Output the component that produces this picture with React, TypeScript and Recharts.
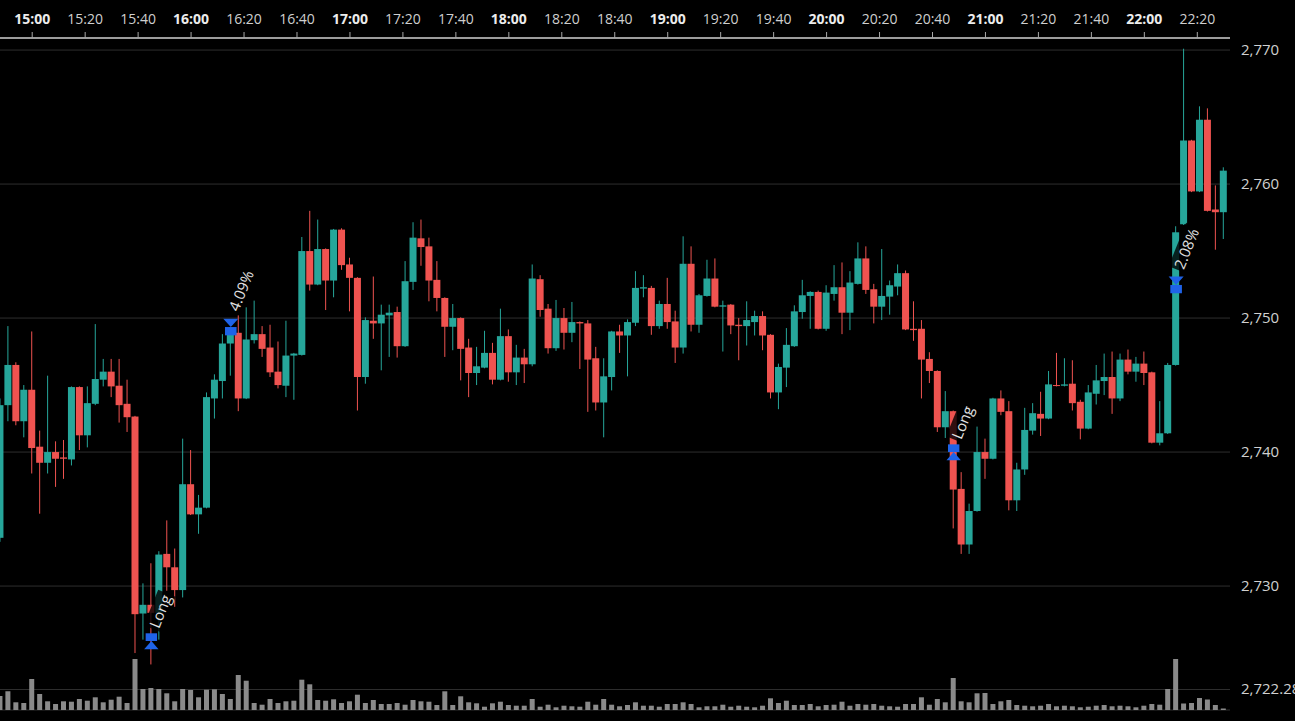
import React from 'react';
import { ComposedChart, Bar, XAxis, YAxis, CartesianGrid, Scatter } from 'recharts';

const TIMES = [
  '14:48','14:51','14:54','14:57',
  '15:00','15:03','15:06','15:09','15:12','15:15','15:18','15:21','15:24','15:27','15:30','15:33','15:36','15:39','15:42','15:45','15:48','15:51','15:54','15:57',
  '16:00','16:03','16:06','16:09','16:12','16:15','16:18','16:21','16:24','16:27','16:30','16:33','16:36','16:39','16:42','16:45','16:48','16:51','16:54','16:57',
  '17:00','17:03','17:06','17:09','17:12','17:15','17:18','17:21','17:24','17:27','17:30','17:33','17:36','17:39','17:42','17:45','17:48','17:51','17:54','17:57',
  '18:00','18:03','18:06','18:09','18:12','18:15','18:18','18:21','18:24','18:27','18:30','18:33','18:36','18:39','18:42','18:45','18:48','18:51','18:54','18:57',
  '19:00','19:03','19:06','19:09','19:12','19:15','19:18','19:21','19:24','19:27','19:30','19:33','19:36','19:39','19:42','19:45','19:48','19:51','19:54','19:57',
  '20:00','20:03','20:06','20:09','20:12','20:15','20:18','20:21','20:24','20:27','20:30','20:33','20:36','20:39','20:42','20:45','20:48','20:51','20:54','20:57',
  '21:00','21:03','21:06','21:09','21:12','21:15','21:18','21:21','21:24','21:27','21:30','21:33','21:36','21:39','21:42','21:45','21:48','21:51','21:54','21:57',
  '22:00','22:03','22:06','22:09','22:12','22:15','22:18','22:21','22:24','22:27','22:30',
];

const OPEN = [
  2733.6, 2743.5, 2746.5, 2742.3, 2744.65, 2740.4, 2739.2, 2740.0, 2739.6, 2739.45,
  2744.85, 2741.25, 2743.6, 2745.4, 2746.0, 2744.95, 2743.6, 2742.65, 2727.95, 2728.6,
  2728.0, 2732.4, 2731.4, 2729.7, 2737.6, 2735.35, 2735.85, 2744.0, 2745.3, 2748.1,
  2748.9, 2744.0, 2748.35, 2748.8, 2747.8, 2746.0, 2744.95, 2747.2, 2747.25, 2755.0,
  2752.5, 2755.15, 2752.8, 2756.6, 2754.0, 2753.0, 2745.6, 2749.8, 2749.6, 2750.2,
  2750.45, 2747.9, 2752.7, 2755.95, 2755.35, 2752.85, 2751.5, 2749.35, 2750.0, 2747.8,
  2745.9, 2746.3, 2747.4, 2745.4, 2748.65, 2745.95, 2747.05, 2746.55, 2752.9, 2750.7,
  2747.75, 2750.0, 2748.9, 2749.7, 2749.6, 2747.0, 2743.7, 2745.6, 2749.0, 2748.7,
  2749.65, 2752.2, 2752.25, 2749.4, 2751.05, 2749.75, 2747.8, 2754.05, 2749.5, 2751.65,
  2752.95, 2750.85, 2751.0, 2749.5, 2749.4, 2749.7, 2750.15, 2748.75, 2744.45, 2746.3,
  2747.9, 2750.45, 2751.65, 2751.95, 2749.2, 2751.8, 2752.3, 2750.4, 2752.55, 2754.45,
  2752.15, 2750.85, 2751.6, 2752.35, 2753.35, 2749.2, 2749.2, 2746.95, 2746.05, 2741.85,
  2743.05, 2737.25, 2733.1, 2735.6, 2740.0, 2739.5, 2744.0, 2743.05, 2736.4, 2738.7,
  2741.6, 2742.85, 2742.5, 2745.0, 2744.95, 2745.1, 2743.75, 2741.75, 2744.35, 2745.3,
  2745.6, 2744.0, 2746.9, 2746.0, 2746.6, 2745.95, 2740.7, 2741.4, 2746.5, 2757.0,
  2763.25, 2759.45, 2764.8, 2758.1, 2757.9,
];

const HIGH = [
  2744.0, 2749.4, 2746.7, 2745.0, 2749.0, 2741.6, 2745.7, 2740.8, 2740.9, 2744.9,
  2744.9, 2744.9, 2749.55, 2746.95, 2746.95, 2746.95, 2745.4, 2742.7, 2730.2, 2731.7,
  2732.6, 2734.9, 2732.8, 2741.0, 2740.15, 2736.8, 2744.45, 2745.8, 2748.8, 2749.3,
  2750.2, 2750.8, 2751.3, 2749.4, 2749.5, 2748.25, 2749.8, 2747.4, 2756.05, 2758.0,
  2757.35, 2755.2, 2756.65, 2756.7, 2754.5, 2753.05, 2750.05, 2753.1, 2751.0, 2751.0,
  2750.85, 2754.25, 2757.15, 2757.35, 2756.0, 2754.25, 2751.55, 2751.05, 2750.05, 2748.45,
  2747.85, 2749.05, 2748.15, 2750.7, 2749.15, 2748.0, 2747.7, 2754.0, 2753.2, 2751.05,
  2751.35, 2750.75, 2751.2, 2749.75, 2749.85, 2747.85, 2747.0, 2749.05, 2749.5, 2749.9,
  2753.5, 2753.2, 2752.4, 2751.3, 2753.0, 2750.55, 2756.1, 2755.35, 2751.8, 2754.35,
  2754.45, 2751.3, 2751.05, 2750.0, 2751.25, 2750.55, 2750.5, 2748.8, 2746.6, 2749.25,
  2750.95, 2752.85, 2752.0, 2752.05, 2752.45, 2753.95, 2754.15, 2753.5, 2755.65, 2755.35,
  2752.55, 2755.15, 2752.8, 2754.0, 2753.55, 2751.25, 2749.85, 2747.45, 2746.1, 2744.55,
  2743.1, 2738.5, 2736.15, 2741.9, 2741.0, 2744.05, 2744.6, 2743.8, 2739.2, 2743.3,
  2743.65, 2744.5, 2746.05, 2747.4, 2747.0, 2746.85, 2743.9, 2745.0, 2746.5, 2747.35,
  2747.5, 2747.35, 2747.65, 2747.1, 2747.5, 2746.0, 2743.8, 2746.65, 2756.85, 2770.1,
  2763.3, 2765.8, 2765.65, 2759.9, 2761.25,
];

const LOW = [
  2733.3, 2742.3, 2742.0, 2741.1, 2738.4, 2735.4, 2738.4, 2737.4, 2738.0, 2739.0,
  2740.15, 2740.35, 2743.5, 2744.9, 2744.1, 2742.2, 2741.5, 2725.0, 2726.0, 2724.15,
  2726.0, 2729.65, 2728.45, 2729.15, 2735.3, 2733.9, 2735.8, 2742.5, 2744.0, 2745.7,
  2743.05, 2743.95, 2748.1, 2747.1, 2745.6, 2744.75, 2744.1, 2743.9, 2747.2, 2752.05,
  2752.45, 2750.6, 2751.55, 2753.6, 2750.5, 2743.1, 2745.1, 2748.45, 2746.1, 2747.1,
  2747.05, 2747.85, 2752.1, 2753.9, 2751.25, 2750.5, 2747.1, 2747.6, 2745.35, 2744.1,
  2745.0, 2746.25, 2745.05, 2745.35, 2745.25, 2745.0, 2745.15, 2746.4, 2750.1, 2747.35,
  2747.55, 2747.65, 2748.2, 2746.2, 2743.0, 2743.1, 2741.1, 2744.6, 2747.4, 2745.65,
  2749.4, 2751.55, 2748.75, 2749.2, 2749.2, 2746.65, 2747.35, 2749.0, 2748.9, 2751.6,
  2750.8, 2747.5, 2748.8, 2746.85, 2747.95, 2748.7, 2747.6, 2744.0, 2743.2, 2744.85,
  2747.85, 2749.95, 2749.2, 2749.15, 2749.05, 2751.3, 2748.8, 2749.1, 2752.5, 2751.8,
  2749.6, 2749.85, 2750.25, 2751.7, 2749.1, 2748.3, 2744.0, 2745.15, 2741.5, 2741.05,
  2734.3, 2732.4, 2732.4, 2735.55, 2738.0, 2739.45, 2742.75, 2735.65, 2735.6, 2738.3,
  2741.3, 2741.2, 2742.45, 2744.9, 2744.9, 2743.1, 2740.95, 2741.7, 2743.55, 2744.25,
  2742.85, 2743.8, 2745.8, 2745.25, 2745.0, 2740.65, 2740.5, 2741.35, 2746.45, 2756.95,
  2759.4, 2759.4, 2757.95, 2755.1, 2755.9,
];

const CLOSE = [
  2743.5, 2746.5, 2742.3, 2744.65, 2740.3, 2739.2, 2740.0, 2739.5, 2739.5, 2744.85,
  2741.25, 2743.65, 2745.45, 2746.0, 2744.9, 2743.5, 2742.6, 2727.9, 2728.6, 2728.0,
  2732.35, 2731.4, 2729.7, 2737.6, 2735.35, 2735.85, 2744.1, 2745.4, 2748.1, 2748.75,
  2744.0, 2748.4, 2748.8, 2747.7, 2745.95, 2745.0, 2747.2, 2747.35, 2755.0, 2752.5,
  2755.15, 2752.8, 2756.6, 2753.95, 2753.0, 2745.6, 2749.85, 2749.6, 2750.25, 2750.4,
  2747.9, 2752.75, 2756.0, 2755.3, 2752.8, 2751.5, 2749.35, 2750.0, 2747.7, 2745.9,
  2746.4, 2747.4, 2745.4, 2748.65, 2745.95, 2747.05, 2746.55, 2752.95, 2750.6, 2747.75,
  2750.0, 2748.9, 2749.7, 2749.6, 2746.9, 2743.7, 2745.65, 2749.0, 2748.7, 2749.7,
  2752.25, 2752.3, 2749.4, 2751.05, 2749.7, 2747.8, 2754.05, 2749.5, 2751.7, 2752.95,
  2750.85, 2750.95, 2749.45, 2749.4, 2749.85, 2750.15, 2748.7, 2744.45, 2746.35, 2748.0,
  2750.5, 2751.7, 2751.95, 2749.2, 2751.9, 2752.3, 2750.4, 2752.65, 2754.45, 2752.1,
  2750.85, 2751.65, 2752.45, 2753.35, 2749.15, 2749.1, 2746.9, 2746.05, 2741.85, 2743.05,
  2737.2, 2733.1, 2735.6, 2740.0, 2739.5, 2744.0, 2743.0, 2736.4, 2738.7, 2741.65,
  2742.9, 2742.5, 2745.05, 2744.95, 2745.05, 2743.65, 2741.75, 2744.45, 2745.35, 2745.6,
  2744.0, 2746.9, 2746.0, 2746.6, 2745.9, 2740.7, 2741.4, 2746.5, 2756.4, 2763.25,
  2759.45, 2764.8, 2758.0, 2757.9, 2761.0,
];

const VOLUME = [
  14, 18.7, 7.7, 7, 31, 16, 8.7, 6, 8.7, 8.3,
  11, 9.3, 12.7, 7.7, 10.3, 13.3, 7, 51, 21, 22,
  21, 16.7, 8.7, 21, 20, 12.7, 20.3, 20.7, 16, 11,
  35, 29.3, 7, 5.3, 11, 7, 8.7, 9.3, 30.3, 25.7,
  10, 9.3, 10.7, 7, 8.7, 15.3, 7, 10, 6, 6,
  7, 5.3, 10, 8.7, 8.3, 5, 18.7, 5, 13.7, 7.7,
  6.7, 3.3, 6.7, 8.3, 5, 4.3, 4.3, 11, 3.3, 5.3,
  2.7, 4.3, 3.7, 3.3, 8.3, 5.3, 11, 5.3, 3.7, 5,
  7.7, 4.3, 4.3, 3.3, 6, 6, 7.7, 6, 2.7, 3.7,
  3.7, 5.3, 3.3, 4.3, 3.3, 2.7, 4.3, 11.7, 7, 9.3,
  5, 5, 6, 3.7, 5, 5.3, 8.3, 4.3, 6, 5.3,
  6, 4.3, 3.7, 3.3, 6, 6, 12.7, 5.3, 11, 7.7,
  32, 8.7, 7.7, 16.7, 17, 6, 8.7, 10, 5, 4.3,
  3.7, 4.3, 6, 3.7, 4.3, 3.7, 2.7, 3.3, 4.3, 5,
  3.7, 4.3, 3.7, 2.7, 4.3, 6, 5.3, 21, 51, 6.5,
  7, 12, 10.5, 5, 1.5,
];

const TICK_LABELS = [
  '15:00','15:20','15:40','16:00','16:20','16:40','17:00','17:20','17:40','18:00','18:20','18:40',
  '19:00','19:20','19:40','20:00','20:20','20:40','21:00','21:20','21:40','22:00','22:20',
];

const PRICE_TICKS = [2722.28, 2730, 2740, 2750, 2760, 2770];

const MARKER_TIMES = ['15:45', '16:15', '20:48', '22:12'];
const MARKER_PRICES = [2725.9, 2749.33, 2740.0, 2752.47];
const MARKER_KINDS = ['entry', 'exit', 'entry', 'exit'];
const MARKER_LABELS = ['Long', '4.09%', 'Long', '2.08%'];

const TEAL = '#26a69a';
const RED = '#ef5350';
const BLUE = '#1f63e8';
const FONT = '"Open Sans", "Noto Sans", sans-serif';

const toMin = (s: string) => {
  const [h, m] = s.split(':').map(Number);
  return h * 60 + m - 900;
};

const data = TIMES.map((s, i) => ({
  t: toMin(s),
  o: OPEN[i],
  h: HIGH[i],
  l: LOW[i],
  c: CLOSE[i],
  vol: VOLUME[i],
}));

const markers = MARKER_TIMES.map((s, i) => ({
  t: toMin(s),
  p: MARKER_PRICES[i],
  kind: MARKER_KINDS[i],
  label: MARKER_LABELS[i],
}));

const tickValues = TICK_LABELS.map(toMin);

const X_DOMAIN: [number, number] = [-12.16, 452.35];
const Y_DOMAIN: [number, number] = [2720.75, 2770.9];

const CandleShape = (props: any) => {
  const { x, y, width, height, payload } = props;
  if (!payload || x == null || y == null) return null;
  const { o, h, l, c } = payload;
  const top = Math.min(y, y + height);
  const bottom = Math.max(y, y + height);
  const ppu = h - l > 0 ? (bottom - top) / (h - l) : 0;
  const yOf = (v: number) => top + (h - v) * ppu;
  const up = c >= o;
  const color = up ? TEAL : RED;
  const cx = x + width / 2;
  const bTop = yOf(Math.max(o, c));
  const bBot = yOf(Math.min(o, c));
  const bh = Math.max(1, bBot - bTop);
  return (
    <g>
      <line x1={cx} x2={cx} y1={top} y2={bottom} stroke={color} strokeWidth={1} />
      <rect x={x} y={bTop} width={width} height={bh} fill={color} />
    </g>
  );
};

const MarkerShape = (props: any) => {
  const { cx, cy, payload } = props;
  if (cx == null || cy == null || !payload) return null;
  const isEntry = payload.kind === 'entry';
  const label: string = payload.label;
  const w = label.length * 8.6;
  const lift = isEntry ? 14 : 17;
  return (
    <g>
      {isEntry ? (
        <g>
          <rect x={cx - 5.7} y={cy - 7.7} width={11.4} height={7.7} fill={BLUE} />
          <polygon points={`${cx},${cy} ${cx - 7.2},${cy + 8.3} ${cx + 7.2},${cy + 8.3}`} fill={BLUE} />
        </g>
      ) : (
        <g>
          <polygon points={`${cx - 7.5},${cy - 8.4} ${cx + 7.5},${cy - 8.4} ${cx},${cy}`} fill={BLUE} />
          <rect x={cx - 5.8} y={cy} width={11.6} height={8.3} fill={BLUE} />
        </g>
      )}
      <g transform={`translate(${cx + 2},${cy - lift}) rotate(-68)`}>
        <rect x={-2} y={-9.5} width={w + 4} height={19} fill="rgba(0,0,0,0.8)" />
        <text x={0} y={0} dominantBaseline="central" fontSize={15} fill="#e2e2e2" fontFamily={FONT}>
          {label}
        </text>
      </g>
    </g>
  );
};

const XTick = (props: any) => {
  const { x, payload } = props;
  const v = payload.value;
  const idx = tickValues.indexOf(v);
  const label = idx >= 0 ? TICK_LABELS[idx] : '';
  const bold = ((v % 60) + 60) % 60 === 0;
  return (
    <text
      x={x}
      y={23.5}
      textAnchor="middle"
      fontSize={14}
      fontWeight={bold ? 700 : 400}
      fill={bold ? '#ececec' : '#cfcfcf'}
      fontFamily={FONT}
    >
      {label}
    </text>
  );
};

const fmtPrice = (v: number) =>
  Number.isInteger(v)
    ? v.toLocaleString('en-US')
    : v.toLocaleString('en-US', { minimumFractionDigits: 2, maximumFractionDigits: 2 });

const YTick = (props: any) => {
  const { x, y, payload } = props;
  return (
    <text x={x} y={y} dy={5} textAnchor="start" fontSize={15} fill="#d0d0d0" fontFamily={FONT}>
      {fmtPrice(payload.value)}
    </text>
  );
};

export default function App() {
  return (
    <div style={{ position: 'absolute', left: 0, top: 0, width: 1295, height: 721, background: '#000', overflow: 'hidden' }}>
      <ComposedChart width={1295} height={721} data={data} margin={{ top: 0, right: 0, bottom: 11, left: 0 }}>
        <CartesianGrid xAxisId="main" yAxisId="price" vertical={false} stroke="#2e2e2e" />
        <XAxis
          xAxisId="main"
          dataKey="t"
          type="number"
          orientation="top"
          domain={X_DOMAIN}
          allowDataOverflow
          ticks={tickValues}
          interval={0}
          height={38}
          tick={<XTick />}
          tickSize={6}
          tickLine={{ stroke: '#a8a8a8' }}
          axisLine={{ stroke: '#9c9c9c', strokeWidth: 2 }}
        />
        <XAxis xAxisId="vol" dataKey="t" type="number" domain={X_DOMAIN} allowDataOverflow hide />
        <YAxis
          yAxisId="price"
          orientation="right"
          width={65}
          type="number"
          domain={Y_DOMAIN}
          allowDataOverflow
          ticks={PRICE_TICKS}
          interval={0}
          tickLine={false}
          axisLine={false}
          tickSize={0}
          tickMargin={11}
          tick={<YTick />}
        />
        <YAxis yAxisId="vol" hide type="number" domain={[0, 672]} allowDataOverflow />
        <Bar xAxisId="vol" yAxisId="vol" dataKey="vol" fill="#8a8a8a" barSize={5} isAnimationActive={false} />
        <Bar
          xAxisId="main"
          yAxisId="price"
          dataKey={(d: any) => [d.l, d.h]}
          barSize={7}
          shape={CandleShape}
          isAnimationActive={false}
        />
        <Scatter
          xAxisId="main"
          yAxisId="price"
          data={markers}
          dataKey="p"
          shape={MarkerShape}
          isAnimationActive={false}
        />
      </ComposedChart>
    </div>
  );
}
